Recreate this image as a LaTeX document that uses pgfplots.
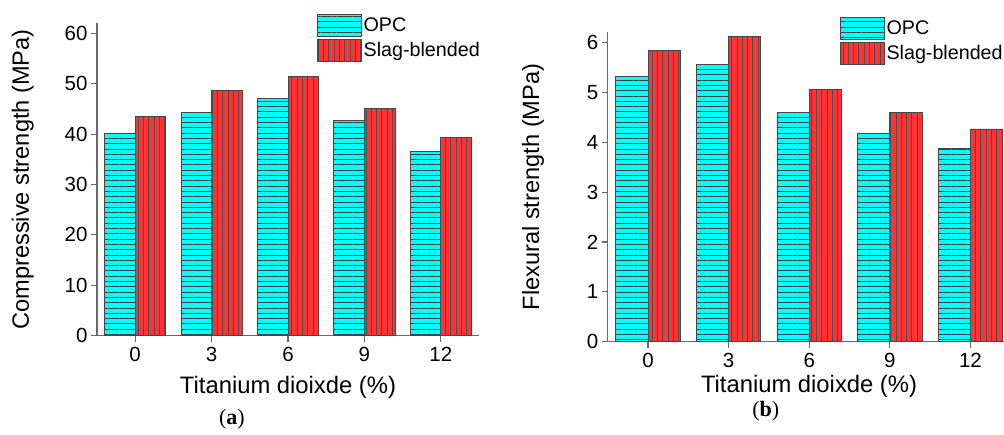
\documentclass[border=0pt]{standalone}
\usepackage{pgfplots}
\pgfplotsset{compat=1.18}
\usepackage{fontspec}
\setmainfont{Liberation Sans}
\newfontfamily\capfont{Liberation Serif}
\usetikzlibrary{patterns.meta}
\definecolor{opc}{RGB}{0,255,255}
\definecolor{slag}{RGB}{255,51,51}
\definecolor{axgray}{RGB}{105,105,105}
\definecolor{bargray}{RGB}{70,70,70}
\pgfplotsset{
 panel/.style={
  scale only axis, axis lines*=left, axis line style={axgray, line width=1.3pt, -},
  ybar, bar width=0.4, ymin=0, xmin=-0.5,
  xtick={0,1,2,3,4}, xticklabels={0,3,6,9,12},
  tick align=outside, major tick length=6pt, tick style={axgray, line width=1.1pt},
  ticklabel style={font=\fontsize{20.5}{22}\selectfont},
  xticklabel style={yshift=-2pt},
  /pgf/number format/assume math mode=true,
  clip=false,
  legend image code/.code={\draw[##1] (0pt,-11pt) rectangle (44pt,11pt);},
  legend style={draw=none, fill=none, inner sep=0pt, row sep=2pt,
    font=\fontsize{19.7}{21}\selectfont, legend cell align=left},
 },
 opcstyle/.style={fill=opc, draw=bargray, line width=0.8pt, bar shift=-0.2,
   postaction={pattern color=black!75, pattern={Lines[angle=0,distance=5.3pt,line width=0.4pt]}}},
 slagstyle/.style={fill=slag, draw=bargray, line width=0.8pt, bar shift=0.2,
   postaction={pattern color=black!70, pattern={Lines[angle=90,distance=5.3pt,line width=0.4pt]}}},
}
\begin{document}
\begin{tikzpicture}
\useasboundingbox (0pt,0pt) rectangle (1004pt,435pt);
\begin{axis}[panel, at={(97pt,99.3pt)}, anchor=south west, width=382pt, height=312.4pt,
  xmax=4.5, ymax=62, ytick={0,10,...,60},
  ylabel={Compressive strength (MPa)}, xlabel={Titanium dioixde (\%)},
  every axis y label/.style={at={(axis description cs:-0.194,0.5)}, rotate=90, anchor=center, font=\fontsize{23.6}{26}\selectfont},
  every axis x label/.style={at={(axis description cs:0.5,-0.164)}, anchor=center, font=\fontsize{23.8}{26}\selectfont},
  legend style={at={(axis description cs:0.575,1.03)}, anchor=north west}]
\addplot[opcstyle] coordinates {(0,40.1) (1,44.3) (2,47.0) (3,42.7) (4,36.6)};
\addplot[slagstyle] coordinates {(0,43.6) (1,48.7) (2,51.5) (3,45.1) (4,39.4)};
\legend{OPC,Slag-blended}
\node[font=\capfont\fontsize{22}{24}\selectfont] at (axis description cs:0.353,-0.267) {(\textbf{a})};
\end{axis}
\begin{axis}[panel, at={(607.7pt,93.3pt)}, anchor=south west, width=396.3pt, height=309.4pt,
  xmax=4.417, ymax=6.21, ytick={0,1,...,6},
  ylabel={Flexural strength (MPa)}, xlabel={Titanium dioixde (\%)},
  every axis y label/.style={at={(axis description cs:-0.1885,0.5)}, rotate=90, anchor=center, font=\fontsize{23.6}{26}\selectfont},
  every axis x label/.style={at={(axis description cs:0.508,-0.1455)}, anchor=center, font=\fontsize{23.8}{26}\selectfont},
  legend style={at={(axis description cs:0.585,1.05)}, anchor=north west}]
\addplot[opcstyle] coordinates {(0,5.33) (1,5.57) (2,4.60) (3,4.18) (4,3.88)};
\addplot[slagstyle] coordinates {(0,5.85) (1,6.13) (2,5.06) (3,4.60) (4,4.27)};
\legend{OPC,Slag-blended}
\node[font=\capfont\fontsize{22}{24}\selectfont] at (axis description cs:0.399,-0.226) {(\textbf{b})};
\end{axis}
\end{tikzpicture}
\end{document}
